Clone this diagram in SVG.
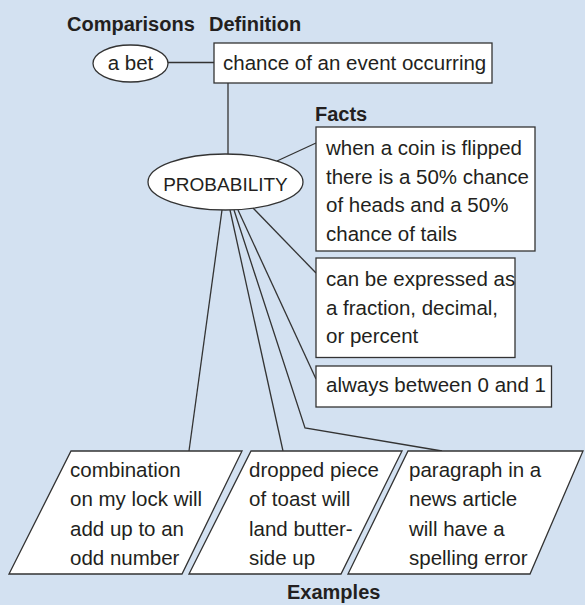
<svg xmlns="http://www.w3.org/2000/svg" width="585" height="605" viewBox="0 0 585 605">
<style>
.t{font-family:"Liberation Sans",Arial,sans-serif;font-size:20.5px;fill:#231f20}
.b{font-family:"Liberation Sans",Arial,sans-serif;font-size:20px;font-weight:bold;fill:#231f20}
.n{fill:#fff;stroke:#333;stroke-width:1.3}
.c{fill:none;stroke:#333;stroke-width:1.3}
</style>
<rect x="0" y="0" width="585" height="605" fill="#d3e1f1"/>
<g id="labels">
<text class="b" x="67" y="30.5">Comparisons</text>
<text class="b" x="209" y="30.5">Definition</text>
<text class="b" x="315" y="121">Facts</text>
<text class="b" x="287" y="599">Examples</text>
</g>
<g id="connectors">
<line class="c" x1="168" y1="62.5" x2="214" y2="62.5"/>
<line class="c" x1="228" y1="83" x2="228" y2="154"/>
<line class="c" x1="277" y1="161" x2="316" y2="143"/>
<line class="c" x1="253" y1="208" x2="316" y2="273"/>
<line class="c" x1="238" y1="210" x2="316" y2="379"/>
<line class="c" x1="222" y1="210" x2="189" y2="451"/>
<line class="c" x1="230" y1="210" x2="283" y2="451"/>
<polyline class="c" points="234,210 305,428 442,451"/>
</g>
<g id="node-abet">
<ellipse class="n" cx="130.5" cy="63.5" rx="37.5" ry="18.5"/>
<text class="t" x="130.5" y="70" text-anchor="middle">a bet</text>
</g>
<g id="node-definition">
<rect class="n" x="214" y="43" width="278" height="40"/>
<text class="t" x="223" y="70">chance of an event occurring</text>
</g>
<g id="node-probability">
<ellipse class="n" cx="225.5" cy="182" rx="77.5" ry="28"/>
<text class="t" x="225.5" y="190.5" text-anchor="middle" style="font-size:19px">PROBABILITY</text>
</g>
<g id="node-fact1">
<rect class="n" x="316" y="127" width="219" height="124"/>
<text class="t" x="326" y="155">when a coin is flipped</text>
<text class="t" x="326" y="183.5">there is a 50% chance</text>
<text class="t" x="326" y="212">of heads and a 50%</text>
<text class="t" x="326" y="240.5">chance of tails</text>
</g>
<g id="node-fact2">
<rect class="n" x="316" y="258" width="199" height="99.5"/>
<text class="t" x="326" y="286">can be expressed as</text>
<text class="t" x="326" y="314.5">a fraction, decimal,</text>
<text class="t" x="326" y="343">or percent</text>
</g>
<g id="node-fact3">
<rect class="n" x="316" y="366" width="235.5" height="41"/>
<text class="t" x="326" y="392">always between 0 and 1</text>
</g>
<g id="node-ex1">
<polygon class="n" points="71,451 242,451 182,574 9,574"/>
<text class="t" x="70" y="477">combination</text>
<text class="t" x="70" y="506">on my lock will</text>
<text class="t" x="70" y="535.5">add up to an</text>
<text class="t" x="70" y="565">odd number</text>
</g>
<g id="node-ex2">
<polygon class="n" points="251,451 402,451 341,574 189,574"/>
<text class="t" x="249" y="477">dropped piece</text>
<text class="t" x="249" y="506">of toast will</text>
<text class="t" x="249" y="535.5">land butter-</text>
<text class="t" x="249" y="565">side up</text>
</g>
<g id="node-ex3">
<polygon class="n" points="408,451 583,451 530,574 348,574"/>
<text class="t" x="409" y="477">paragraph in a</text>
<text class="t" x="409" y="506">news article</text>
<text class="t" x="409" y="535.5">will have a</text>
<text class="t" x="409" y="565">spelling error</text>
</g>
</svg>
